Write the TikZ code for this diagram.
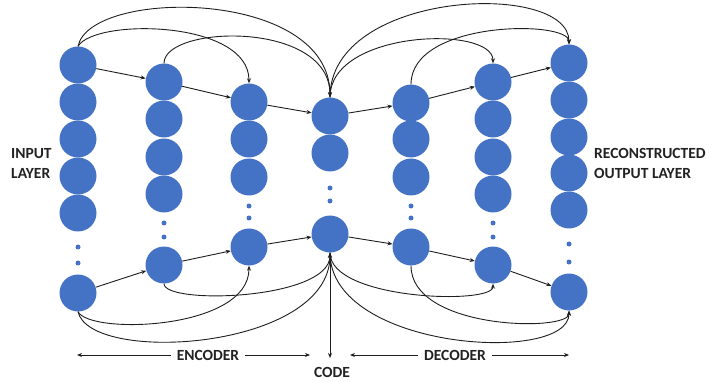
\documentclass[tikz,border=0pt]{standalone}
\usepackage{fontspec}
\setmainfont{Carlito}
\usetikzlibrary{arrows.meta}
\definecolor{nblue}{HTML}{4472C4}
\definecolor{lnk}{HTML}{1E1E1E}
\definecolor{txt}{HTML}{222222}
\begin{document}
\begin{tikzpicture}[x=1pt,y=-1pt,
  neuron/.style={circle,fill=nblue,draw=none,minimum size=37pt,inner sep=0pt},
  dotn/.style={circle,fill=nblue,draw=none,minimum size=5pt,inner sep=0pt},
  link/.style={draw=lnk,line width=0.9pt,-{Stealth[length=5pt,width=4pt]}},
  lbl/.style={font=\fontsize{15.5}{20}\selectfont\bfseries,text=txt,inner sep=0pt}]
\useasboundingbox (0,0) rectangle (712,382);
% column 1
\foreach \n/\y in {a/65,b/102,c/139,d/176,e/213}{\node[neuron] (c1\n) at (78,\y) {};}
\node[dotn] (d1a) at (78,247) {}; \node[dotn] (d1b) at (78,263) {};
\node[neuron] (c1z) at (78,293) {};
% column 2
\foreach \n/\y in {a/82,b/119,c/157,d/194}{\node[neuron] (c2\n) at (164,\y) {};}
\node[dotn] (d2a) at (164,223) {}; \node[dotn] (d2b) at (164,237) {};
\node[neuron] (c2z) at (164,265) {};
% column 3
\foreach \n/\y in {a/102,b/139,c/177}{\node[neuron] (c3\n) at (249,\y) {};}
\node[dotn] (d3a) at (249,206) {}; \node[dotn] (d3b) at (249,218) {};
\node[neuron] (c3z) at (249,247) {};
% column 4 (code)
\foreach \n/\y in {a/116,b/153}{\node[neuron] (c4\n) at (330,\y) {};}
\node[dotn] (d4a) at (330,188) {}; \node[dotn] (d4b) at (330,201) {};
\node[neuron] (c4z) at (330,234) {};
% column 5
\foreach \n/\y in {a/103,b/139,c/177}{\node[neuron] (c5\n) at (411,\y) {};}
\node[dotn] (d5a) at (411,206) {}; \node[dotn] (d5b) at (411,218) {};
\node[neuron] (c5z) at (411,247) {};
% column 6
\foreach \n/\y in {a/82,b/119,c/157,d/194}{\node[neuron] (c6\n) at (493,\y) {};}
\node[dotn] (d6a) at (493,223) {}; \node[dotn] (d6b) at (493,237) {};
\node[neuron] (c6z) at (493,265) {};
% column 7
\foreach \n/\y in {a/63,b/100,c/137,d/173,e/210}{\node[neuron] (c7\n) at (569,\y) {};}
\node[dotn] (d7a) at (569,244) {}; \node[dotn] (d7b) at (569,262) {};
\node[neuron] (c7z) at (569,292) {};
% straight chains
\draw[link] (c1a) -- (c2a); \draw[link] (c2a) -- (c3a); \draw[link] (c3a) -- (c4a);
\draw[link] (c4a) -- (c5a); \draw[link] (c5a) -- (c6a); \draw[link] (c6a) -- (c7a);
\draw[link] (c1z) -- (c2z); \draw[link] (c2z) -- (c3z); \draw[link] (c3z) -- (c4z);
\draw[link] (c4z) -- (c5z); \draw[link] (c5z) -- (c6z); \draw[link] (c6z) -- (c7z);
% top skip curves
\draw[link] (c1a.north) .. controls (95,18) and (249,20) .. (c3a.north);
\draw[link] (c1a.north) .. controls (90,-12) and (330,-12) .. (c4a.north);
\draw[link] (c2a.north) .. controls (164,25) and (330,20) .. (c4a.north);
\draw[link] (c4a.north) .. controls (330,30) and (493,25) .. (c6a.north);
\draw[link] (c4a.north) .. controls (330,-10) and (569,-20) .. (c7a.north);
\draw[link] (c5a.north) .. controls (411,20) and (569,20) .. (c7a.north);
% bottom skip curves
\draw[link] (c1z.south) .. controls (90,335) and (249,330) .. (c3z.south);
\draw[link] (c1z.south) .. controls (90,365) and (330,350) .. (c4z.south);
\draw[link] (c2z.south) .. controls (164,305) and (330,300) .. (c4z.south);
\draw[link] (c4z.south) .. controls (330,300) and (493,305) .. (c6z.south);
\draw[link] (c4z.south) .. controls (330,350) and (569,365) .. (c7z.south);
\draw[link] (c5z.south) .. controls (411,330) and (569,332) .. (c7z.south);
% labels
\node[lbl,align=left,anchor=west] (inl) at (11,163) {INPUT\\LAYER};
\node[lbl,align=left,anchor=west] (outl) at (594,163) {RECONSTRUCTED\\OUTPUT LAYER};
\node[lbl] (enc) at (208,355) {ENCODER};
\node[lbl] (dec) at (455,355) {DECODER};
\node[lbl] (code) at (332,372) {CODE};
\coordinate (encL) at (77,355); \coordinate (encR) at (310,355);
\coordinate (decL) at (350,355); \coordinate (decR) at (569,355);
\coordinate (codeT) at (330,358);
\draw[link] ([xshift=-6pt]enc.west) -- (encL);
\draw[link] ([xshift=6pt]enc.east) -- (encR);
\draw[link] ([xshift=-6pt]dec.west) -- (decL);
\draw[link] ([xshift=6pt]dec.east) -- (decR);
\draw[link] (c4z.south) -- (codeT);
\end{tikzpicture}
\end{document}
